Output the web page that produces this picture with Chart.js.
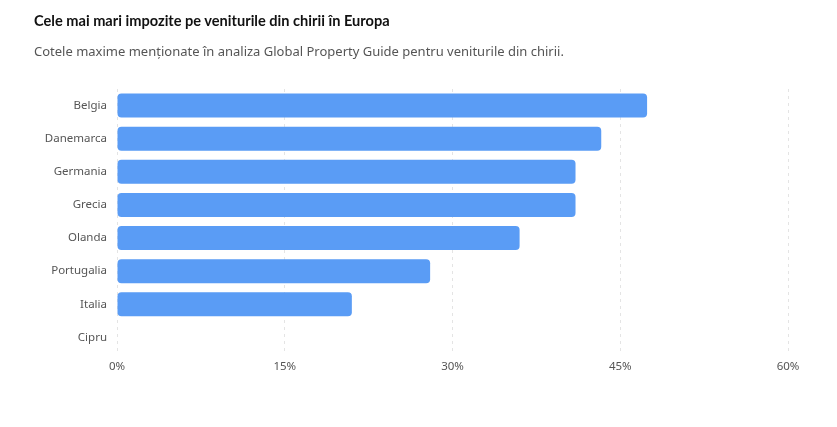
<!DOCTYPE html>
<html>
<head>
<meta charset="utf-8">
<script src="https://cdn.jsdelivr.net/npm/chart.js@4"></script>
<style>
  body { margin: 0; background: #fff; font-family: "Noto Sans", sans-serif; }
  #wrap { position: relative; width: 837px; height: 427px; }
  #titlu { position: absolute; left: 34px; top: 12px; font-family: Lato, sans-serif; font-size: 14.6px; font-weight: bold; color: #111; margin: 0; }
  #subtitlu { position: absolute; left: 34px; top: 42px; font-size: 13px; color: #555; margin: 0; }
  #grafic { position: absolute; left: 0; top: 0; }
</style>
</head>
<body>
<div id="wrap">
  <canvas id="grafic" width="837" height="427"></canvas>
  <p id="titlu">Cele mai mari impozite pe veniturile din chirii în Europa</p>
  <p id="subtitlu">Cotele maxime menționate în analiza Global Property Guide pentru veniturile din chirii.</p>
</div>
<script>
// tari si cote maxime (%)
let tari = ['Belgia', 'Danemarca', 'Germania', 'Grecia', 'Olanda', 'Portugalia', 'Italia', 'Cipru'];
let cote = [47.4, 43.3, 41, 41, 36, 28, 21, 0];
let axaMin = 0;
let axaMax = 60;
let pas = 15;

let culoareBara = '#5a9cf5';
let culoareText = '#555';

let data = {
    labels: tari,
    datasets: [{
        label: 'Cota maximă',
        data: cote,
        backgroundColor: culoareBara,
        borderRadius: 4,
        borderSkipped: false,
        barPercentage: 0.8,
        categoryPercentage: 0.91
    }]
};

let config = {
    type: 'bar',
    data: data,
    options: {
        indexAxis: 'y',
        responsive: false,
        animation: false,
        layout: { padding: { top: 89, right: 49, bottom: 43, left: 0 } },
        plugins: {
            legend: { display: false },
            tooltip: { enabled: false }
        },
        scales: {
            x: {
                min: axaMin,
                max: axaMax,
                afterFit: function(scale) { scale.height = 30; },
                ticks: {
                    stepSize: pas,
                    padding: 6,
                    color: culoareText,
                    font: { family: 'Noto Sans', size: 11.5 },
                    callback: function(v) { return v + '%'; }
                },
                grid: { color: '#e4e4e4', drawTicks: false },
                border: { display: false, dash: [3, 4] }
            },
            y: {
                afterFit: function(scale) { scale.width = 117; },
                ticks: {
                    padding: 10,
                    color: culoareText,
                    font: { family: 'Noto Sans', size: 11.5 }
                },
                grid: { display: false, drawTicks: false },
                border: { display: false }
            }
        }
    }
};

let myChart = new Chart(document.getElementById('grafic'), config);
</script>
</body>
</html>
